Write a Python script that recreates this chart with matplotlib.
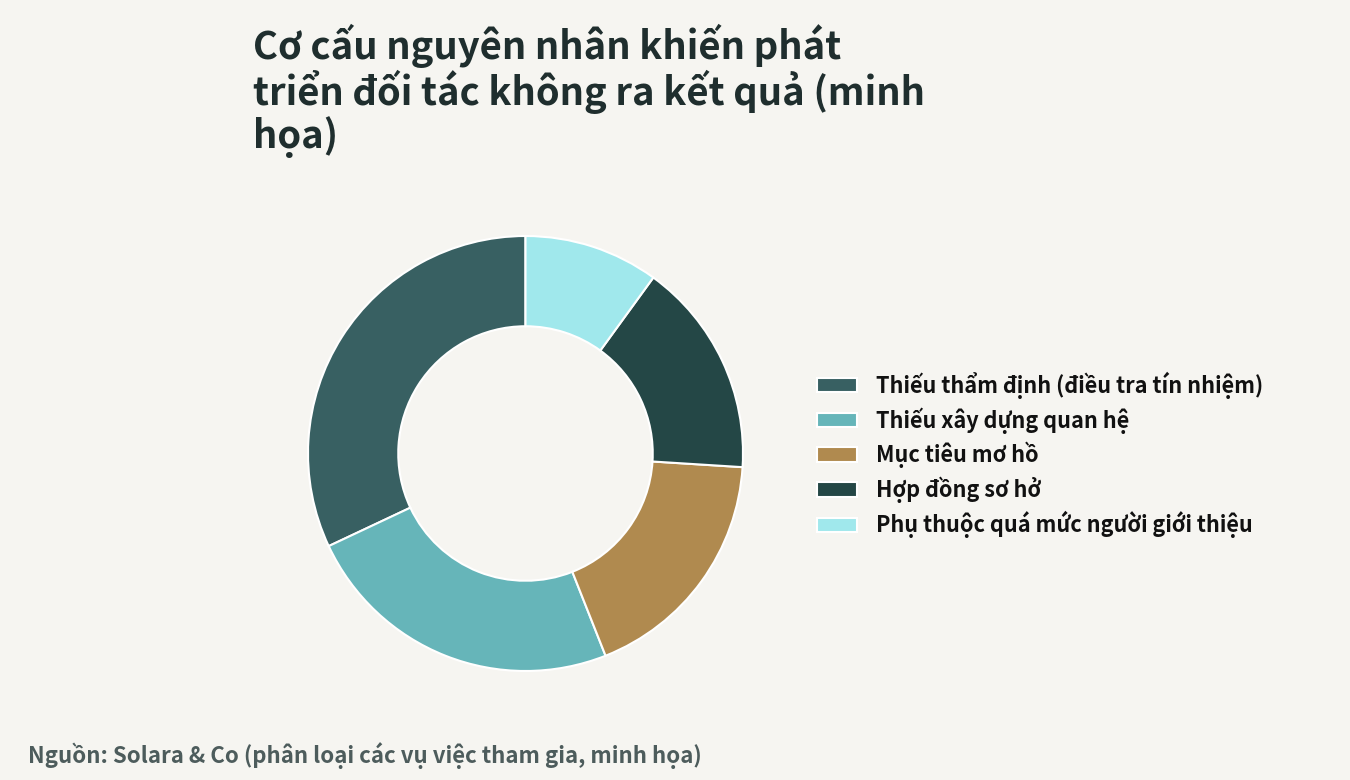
import matplotlib
matplotlib.use("Agg")
import matplotlib.pyplot as plt

categories = [
    "Thiếu thẩm định (điều tra tín nhiệm)",
    "Thiếu xây dựng quan hệ",
    "Mục tiêu mơ hồ",
    "Hợp đồng sơ hở",
    "Phụ thuộc quá mức người giới thiệu",
]
values = [32, 24, 18, 16, 10]
colors = ["#386062", "#66b5b9", "#b08a4f", "#244746", "#a0e8ec"]

title = "Cơ cấu nguyên nhân khiến phát\ntriển đối tác không ra kết quả (minh\nhọa)"
source = "Nguồn: Solara & Co (phân loại các vụ việc tham gia, minh họa)"

FAM = ["Noto Sans CJK SC", "Noto Sans", "DejaVu Sans"]
plt.rcParams["font.family"] = FAM

BG = "#f6f5f1"
W, H = 1350, 780
fig = plt.figure(figsize=(W / 100, H / 100), dpi=100, facecolor=BG)

cx, cy, r = 525.5, 780 - 453.5, 217.5
ax = fig.add_axes([(cx - r) / W, (cy - r) / H, 2 * r / W, 2 * r / H])
ax.set_facecolor(BG)
wedges, _ = ax.pie(values, colors=colors, startangle=90, counterclock=True,
                   radius=1.0,
                   wedgeprops=dict(width=0.415, edgecolor="white", linewidth=1.5))
ax.set_xlim(-1, 1)
ax.set_ylim(-1, 1)
ax.set_aspect("equal")
ax.axis("off")

fig.text(253 / W, 1 - 24 / H, title, ha="left", va="top", fontsize=27.5,
         fontweight="bold", color="#1f2e2e", linespacing=1.05)

fig.text(28 / W, 1 - 756 / H, source, ha="left", va="center", fontsize=16,
         fontweight="bold", color="#4d5c5c")

leg = fig.legend(wedges, categories, loc="center left",
                 bbox_to_anchor=(817 / W, 1 - 455 / H), frameon=False,
                 prop=dict(family=FAM, size=15.6, weight="bold"),
                 handlelength=1.85, handleheight=0.65, handletextpad=0.85,
                 labelspacing=0.38, borderpad=0, borderaxespad=0)
for t in leg.get_texts():
    t.set_color("#111111")

fig.savefig("out.png", dpi=100, facecolor=BG)
